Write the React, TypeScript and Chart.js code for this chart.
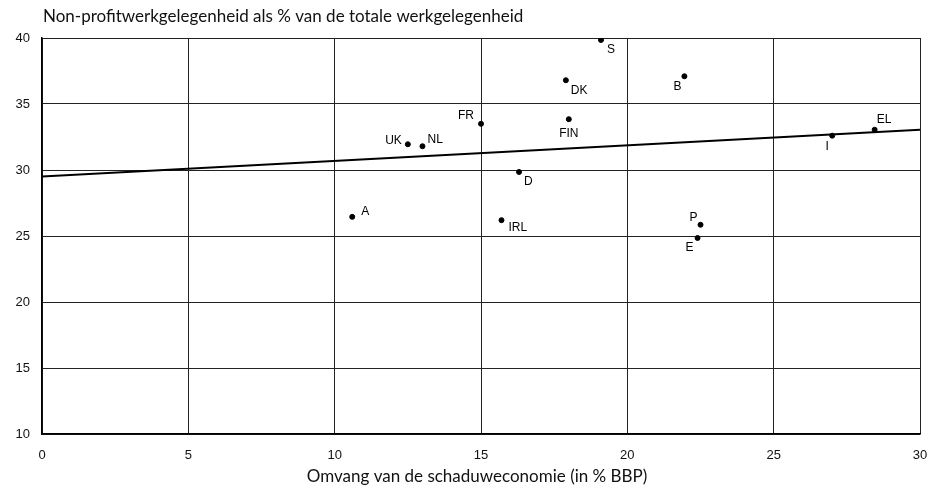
import React, { useEffect, useRef } from "react";
import { Chart, registerables } from "chart.js";

Chart.register(...registerables);

const countries = ["A", "UK", "NL", "FR", "FIN", "DK", "S", "B", "D", "IRL", "I", "EL", "P", "E"];
const shadowEconomy = [10.6, 12.5, 13.0, 15.0, 18.0, 17.9, 19.1, 21.95, 16.3, 15.7, 27.0, 28.45, 22.5, 22.4];
const nonProfitJobs = [26.45, 31.95, 31.8, 33.5, 33.85, 36.8, 39.85, 37.1, 29.85, 26.2, 32.6, 33.05, 25.85, 24.85];
const trendX = [0, 30];
const trendY = [29.5, 33.05];
const xTicks = [0, 5, 10, 15, 20, 25, 30];
const yTicks = [10, 15, 20, 25, 30, 35, 40];
const chartTitle = "Non-profitwerkgelegenheid als % van de totale werkgelegenheid";
const xTitle = "Omvang van de schaduweconomie (in % BBP)";

// label placement relative to each dot: [dx, dy, align]
const labelPlacement: Record<string, [number, number, CanvasTextAlign]> = {
  A: [9, -5, "left"],
  UK: [-6, -4, "right"],
  NL: [5, -7, "left"],
  FR: [-7, -8, "right"],
  FIN: [0, 15, "center"],
  DK: [5, 10, "left"],
  S: [6, 10, "left"],
  B: [-7, 10, "center"],
  D: [5, 10, "left"],
  IRL: [7, 8, "left"],
  I: [-5, 11, "center"],
  EL: [2, -10, "left"],
  P: [-7, -7, "center"],
  E: [-8, 10, "center"],
};

const textPlugin = {
  id: "textPlugin",
  afterDraw(chart: any) {
    const ctx = chart.ctx;
    const meta = chart.getDatasetMeta(1);
    ctx.save();
    ctx.fillStyle = "#000";
    ctx.font = "12px 'Liberation Sans', Arial, sans-serif";
    ctx.textBaseline = "middle";
    meta.data.forEach((pt: any, i: number) => {
      const name = countries[i];
      const [dx, dy, align] = labelPlacement[name] || [5, -5, "left"];
      ctx.textAlign = align;
      ctx.fillText(name, pt.x + dx, pt.y + dy);
    });
    const area = chart.chartArea;
    ctx.fillStyle = "#111";
    ctx.font = "17px Lato, 'Open Sans', sans-serif";
    ctx.textAlign = "left";
    ctx.textBaseline = "middle";
    ctx.fillText(chartTitle, area.left + 1, 17);
    ctx.textAlign = "center";
    ctx.fillText(xTitle, (area.left + area.right) / 2 - 4, 477);
    ctx.restore();
  },
};

export default function App() {
  const ref = useRef<HTMLCanvasElement>(null);
  useEffect(() => {
    document.body.style.margin = "0";
    const chart = new Chart(ref.current!, {
      type: "scatter",
      data: {
        datasets: [
          {
            type: "line",
            data: trendX.map((x, i) => ({ x, y: trendY[i] })),
            borderColor: "#000",
            borderWidth: 2,
            pointRadius: 0,
            fill: false,
          } as any,
          {
            data: shadowEconomy.map((x, i) => ({ x, y: nonProfitJobs[i] })),
            backgroundColor: "#000",
            borderColor: "#000",
            pointRadius: 2.5,
          },
        ],
      },
      options: {
        responsive: false,
        animation: false,
        layout: { padding: { top: 38, right: 15, left: 0, bottom: 0 } },
        plugins: { legend: { display: false }, tooltip: { enabled: false } },
        scales: {
          x: {
            type: "linear",
            min: 0,
            max: 30,
            afterBuildTicks: (s: any) => {
              s.ticks = xTicks.map((v) => ({ value: v }));
            },
            afterFit: (s: any) => {
              s.height = 55;
              s.paddingLeft = 0;
              s.paddingRight = 0;
            },
            grid: { color: "#222", lineWidth: 1, drawTicks: false },
            border: { color: "#000", width: 1.5 },
            ticks: {
              padding: 14,
              color: "#111",
              font: { family: "'Liberation Sans Narrow', 'Liberation Sans', sans-serif", size: 13 },
            },
          },
          y: {
            type: "linear",
            min: 10,
            max: 40,
            afterBuildTicks: (s: any) => {
              s.ticks = yTicks.map((v) => ({ value: v }));
            },
            afterFit: (s: any) => {
              s.width = 42;
              s.paddingTop = 0;
              s.paddingBottom = 0;
            },
            grid: { color: "#222", lineWidth: 1, drawTicks: false },
            border: { color: "#000", width: 1.5 },
            ticks: {
              padding: 12,
              color: "#111",
              font: { family: "'Liberation Sans', Arial, sans-serif", size: 13 },
            },
          },
        },
      },
      plugins: [textPlugin],
    });
    return () => chart.destroy();
  }, []);
  return (
    <div style={{ position: "absolute", left: 0, top: 0, width: 935, height: 489, background: "#fff" }}>
      <canvas ref={ref} width={935} height={489} style={{ width: 935, height: 489 }} />
    </div>
  );
}
